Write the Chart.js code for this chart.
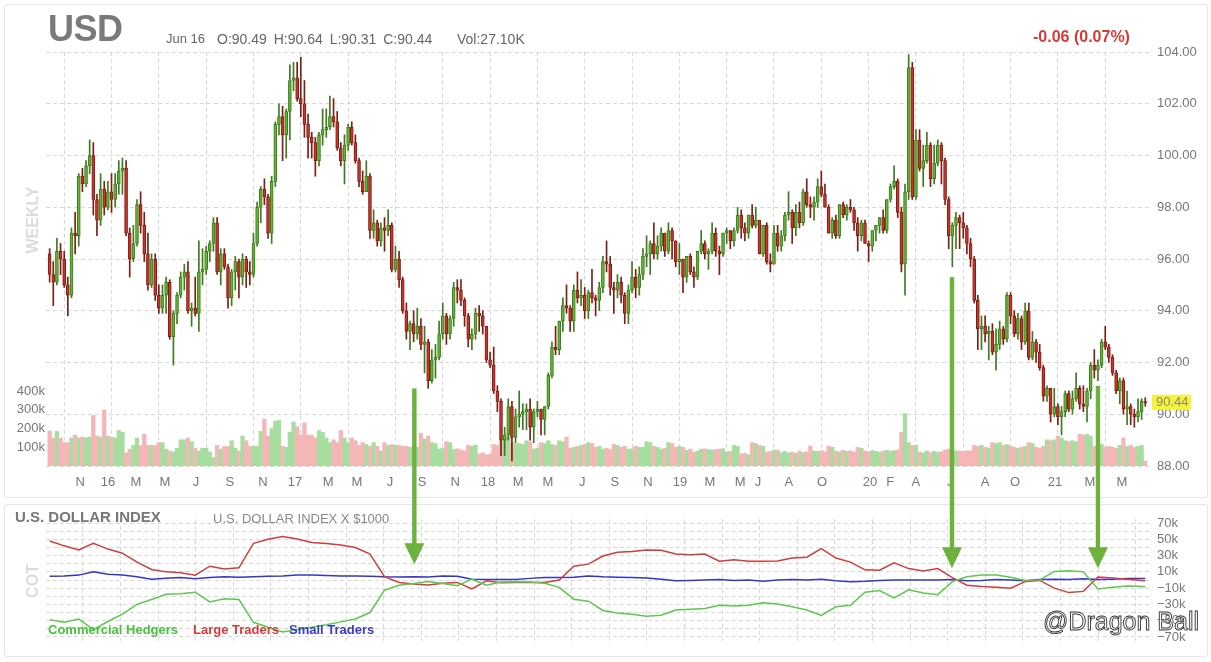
<!DOCTYPE html>
<html>
<head>
<meta charset="utf-8">
<script src="https://cdn.jsdelivr.net/npm/chart.js@4.4.1/dist/chart.umd.min.js"></script>
<style>
  html, body { margin: 0; padding: 0; background: #fff; }
  body { width: 1211px; height: 662px; position: relative; overflow: hidden; font-family: "Liberation Sans", Arial, sans-serif; }
  .panel { position: absolute; border: 1px solid #e6e6e6; border-radius: 3px; }
  #pricePanel { left: 4px; top: 4px; width: 1202px; height: 492px; }
  #cotPanel { left: 4px; top: 504px; width: 1202px; height: 151px; }
  canvas { position: absolute; left: 0; }
  #priceCanvas { top: 0; }
  #cotCanvas { top: 500px; }
  #arrowCanvas { top: 0; }
  .txt { position: absolute; white-space: nowrap; line-height: 1; }
</style>
</head>
<body>
<div class="panel" id="pricePanel"></div>
<div class="panel" id="cotPanel"></div>
<canvas id="priceCanvas" width="1211" height="500"></canvas>
<canvas id="cotCanvas" width="1211" height="162"></canvas>

<div class="txt" style="left:48px;top:11px;font-size:36px;font-weight:bold;color:#7a7a7a;letter-spacing:-0.5px;">USD</div>
<div class="txt" style="left:166px;top:32px;font-size:13px;color:#666;">Jun 16</div>
<div class="txt" style="left:217px;top:32px;font-size:14px;color:#666;word-spacing:3px;">O:90.49 H:90.64 L:90.31 C:90.44</div>
<div class="txt" style="left:457px;top:32px;font-size:14px;color:#666;">Vol:27.10K</div>
<div class="txt" style="left:1033px;top:29px;font-size:16px;font-weight:bold;color:#d63a35;">-0.06 (0.07%)</div>
<div class="txt" style="left:33px;top:220px;font-size:16px;font-weight:bold;color:#dcdcdc;transform:translate(-50%,-50%) rotate(-90deg);">WEEKLY</div>
<div class="txt" style="left:33px;top:581px;font-size:16px;font-weight:bold;color:#dcdcdc;transform:translate(-50%,-50%) rotate(-90deg);">COT</div>
<div class="txt" style="left:15px;top:509px;font-size:15px;font-weight:bold;color:#777;">U.S. DOLLAR INDEX</div>
<div class="txt" style="left:213px;top:512px;font-size:13px;color:#888;">U.S. DOLLAR INDEX X $1000</div>
<div class="txt" style="left:48px;top:623px;font-size:13px;font-weight:bold;color:#48c23a;">Commercial Hedgers</div>
<div class="txt" style="left:193px;top:623px;font-size:13px;font-weight:bold;color:#d23c3c;">Large Traders</div>
<div class="txt" style="left:289px;top:623px;font-size:13px;font-weight:bold;color:#3a3ac8;">Small Traders</div>

<canvas id="arrowCanvas" width="1211" height="662"></canvas>
<div class="txt" style="left:1043px;top:609px;font-size:25px;color:#fff;-webkit-text-stroke:0.9px #333;">@Dragon Ball</div>

<script>
// weekly candles, Sep 2015 .. Jun 2021 (one value per week)
const opens = [
  96.2,95.4,95.1,96.3,96.0,95.0,94.6,97.0,96.9,99.2,
  98.9,99.6,100.0,98.3,97.5,98.7,98.0,98.6,98.3,98.9,
  99.4,99.5,97.0,96.0,96.6,98.1,97.3,96.2,95.0,96.0,
  94.6,94.1,94.6,95.1,93.0,93.9,94.6,95.3,95.5,94.0,
  94.1,93.9,95.5,95.6,96.3,96.6,97.4,95.5,96.2,95.7,
  94.5,95.5,95.9,95.3,96.0,95.5,95.4,96.6,98.0,98.7,
  98.4,97.0,99.0,101.2,101.5,100.8,101.7,102.9,103.0,102.2,
  102.0,101.2,100.7,100.5,99.8,100.8,101.0,101.1,101.5,101.3,
  100.3,99.8,100.4,101.1,100.5,99.8,99.0,98.6,99.2,97.1,
  97.4,96.7,97.2,97.1,97.3,95.6,96.0,95.2,94.0,93.2,
  93.5,93.1,93.4,92.7,92.8,91.3,92.1,92.2,93.1,93.8,
  93.1,93.7,94.9,94.8,94.4,93.8,92.9,93.1,93.9,93.8,
  93.4,92.1,91.9,90.9,90.5,89.0,89.2,90.3,89.1,89.9,
  90.0,90.1,90.2,89.5,90.1,90.2,89.8,90.3,91.5,92.6,
  92.5,93.6,94.2,94.1,93.6,94.8,94.5,94.6,94.0,94.7,
  94.5,94.4,94.9,95.9,95.8,94.9,94.8,95.1,94.6,93.9,
  94.8,95.3,94.9,95.4,96.1,96.2,96.6,96.2,96.5,97.0,
  96.3,97.1,96.7,95.9,96.0,95.3,96.1,95.5,95.3,96.3,
  96.6,96.2,96.3,97.0,96.3,96.2,97.0,97.1,96.7,97.1,
  97.7,97.2,97.0,97.7,97.3,97.5,96.2,97.3,95.9,95.8,
  97.0,96.5,96.9,97.7,97.8,97.2,97.8,97.4,98.6,98.1,
  98.0,98.2,98.8,98.5,98.0,97.0,97.5,96.9,98.1,97.7,
  98.0,97.9,97.4,96.9,97.4,96.6,96.5,97.1,97.3,97.6,
  97.1,98.3,98.8,99.0,97.8,95.8,98.6,103.4,98.4,100.6,
  99.5,99.8,100.4,99.1,99.7,100.4,99.8,98.3,96.9,97.3,
  97.6,97.4,97.2,96.6,96.0,94.4,93.3,93.4,93.1,93.2,
  92.4,92.7,93.3,92.9,94.6,93.8,93.1,93.7,92.8,94.0,
  92.2,92.8,92.4,91.8,90.7,91.0,90.0,90.3,89.9,90.1,
  90.8,90.2,90.6,91.0,90.4,90.3,90.9,91.9,91.7,91.9,
  92.8,92.6,92.2,91.6,90.9,91.3,90.2,90.3,90.0,89.9,
  90.1,90.49
];
const highs = [
  96.4,95.9,96.8,96.6,96.3,95.3,97.2,97.8,99.3,99.5,
  99.8,100.6,100.5,98.5,99.3,99.0,99.0,99.3,99.3,99.8,
  99.9,99.8,97.2,97.3,98.3,98.6,97.8,97.0,96.2,96.2,
  95.0,95.0,95.3,95.2,94.0,94.7,95.5,95.8,95.9,94.3,
  95.3,96.7,96.4,96.5,96.7,97.6,97.6,96.4,96.4,95.8,
  95.6,96.1,96.0,96.2,96.1,95.9,97.0,98.2,98.8,99.1,
  98.5,99.2,101.3,102.0,101.9,101.8,103.5,103.6,103.6,103.8,
  102.9,101.6,100.9,100.7,100.9,101.8,101.8,102.3,102.2,101.7,
  100.5,100.8,101.2,101.3,100.8,99.9,99.4,99.8,99.3,97.9,
  97.5,97.4,97.6,97.9,97.4,96.5,96.3,95.3,94.3,93.6,
  94.0,94.1,93.7,93.4,92.9,92.5,92.7,93.6,94.3,93.9,
  93.8,95.1,95.2,95.2,94.5,93.9,93.3,94.1,94.2,94.0,
  93.4,92.4,92.6,91.1,90.6,89.5,90.6,90.5,90.2,90.9,
  90.4,90.4,90.6,90.2,90.5,90.2,90.3,91.6,92.8,93.4,
  93.6,94.5,95.0,94.2,95.0,95.5,95.2,94.9,94.8,95.6,
  94.6,95.1,96.1,96.7,96.1,95.1,95.4,95.3,94.7,95.0,
  95.9,95.6,95.7,96.4,96.9,96.7,97.4,96.9,97.2,97.0,
  97.4,97.2,96.7,96.6,96.0,96.1,96.2,95.7,96.3,97.1,
  96.7,96.4,97.4,97.2,96.5,97.0,97.2,97.1,97.2,98.0,
  97.9,97.4,97.7,98.1,98.0,97.5,97.3,97.4,96.2,97.3,
  97.3,97.1,97.8,98.6,97.9,98.1,98.2,98.7,99.1,98.4,
  98.4,99.1,99.4,98.9,98.1,97.6,97.7,98.1,98.2,98.1,
  98.3,98.0,97.6,97.5,97.5,96.7,97.1,97.3,97.6,97.9,
  98.3,98.9,99.6,99.1,98.0,98.9,103.9,103.6,101.0,101.0,
  100.4,100.9,100.5,100.4,100.6,100.5,99.9,98.4,97.4,97.8,
  97.7,97.8,97.3,96.8,96.1,94.6,93.8,93.8,93.4,93.5,
  93.3,93.6,93.4,94.7,94.7,94.0,93.9,93.8,94.3,94.3,
  93.2,92.9,92.7,91.9,91.1,91.0,91.0,90.4,90.3,90.9,
  90.9,90.9,91.6,91.1,91.1,91.0,92.0,92.5,92.1,92.9,
  93.4,92.7,92.3,91.7,91.4,91.4,90.9,90.4,90.2,90.6,
  90.6,90.64
];
const lows = [
  95.1,94.2,95.0,95.4,94.9,93.8,94.5,96.2,96.5,98.6,
  98.8,99.3,97.7,96.9,97.3,97.7,97.9,97.8,98.0,98.5,
  98.5,96.9,95.3,95.9,96.5,97.0,95.9,94.8,94.9,94.4,
  93.9,93.9,93.9,92.9,91.9,93.5,94.5,94.8,93.9,93.4,
  93.8,93.2,95.0,95.4,95.9,96.3,95.4,95.0,95.6,94.1,
  94.2,94.8,94.5,95.0,94.9,95.0,95.3,96.5,97.4,98.1,
  96.8,96.6,98.8,100.8,99.8,99.9,100.6,102.5,102.1,101.5,
  100.7,99.9,99.9,99.2,99.6,100.4,100.7,101.0,101.1,100.2,
  99.6,98.9,100.2,100.4,99.7,98.8,98.5,98.6,96.8,96.8,
  96.5,96.5,96.3,96.9,95.5,95.5,94.9,93.9,92.9,92.5,
  92.8,92.9,92.5,91.6,91.0,91.2,91.4,92.1,92.9,92.7,
  92.9,93.4,94.3,94.2,93.4,92.6,92.5,92.9,93.2,93.1,
  92.0,91.8,90.8,90.1,88.4,88.4,89.0,88.2,88.9,89.5,
  89.4,89.4,89.0,88.9,89.9,89.2,89.2,90.2,91.4,92.3,
  92.3,93.2,93.9,93.2,93.2,94.3,94.2,93.7,93.7,94.3,
  93.8,94.0,94.7,95.5,94.6,93.9,94.5,94.3,93.5,93.5,
  94.7,94.5,94.6,95.2,95.7,95.4,96.0,96.0,96.3,96.1,
  96.2,96.0,95.7,95.4,94.7,95.1,95.4,94.9,95.2,96.2,
  96.0,95.6,96.2,96.1,95.4,96.1,96.6,96.4,96.5,97.0,
  96.8,96.7,96.8,97.2,97.2,96.2,96.1,95.8,95.5,95.8,
  96.3,96.3,96.7,97.5,96.6,96.9,97.2,97.3,98.0,97.6,
  97.5,98.0,98.4,98.0,97.0,96.8,96.8,96.8,97.6,97.5,
  97.8,97.1,96.3,96.7,96.6,95.9,96.3,96.7,97.0,97.0,
  97.0,98.2,98.7,97.6,95.5,94.6,98.3,98.3,98.3,99.4,
  98.8,99.7,98.8,98.9,99.6,98.9,98.1,96.4,95.7,96.4,
  96.4,96.8,96.2,95.7,94.3,92.5,92.5,92.8,92.1,92.3,
  91.7,92.5,92.7,92.8,93.5,93.0,92.9,92.5,92.7,92.1,
  92.1,92.0,91.7,90.5,90.5,89.7,89.9,89.6,89.2,89.9,
  90.1,90.0,90.5,90.2,90.1,89.7,90.6,91.4,91.3,91.8,
  92.5,92.0,91.5,90.8,90.4,90.0,89.6,89.6,89.5,89.7,
  89.8,90.31
];
const closes = [
  95.4,95.1,96.3,96.0,95.0,94.6,97.0,96.9,99.2,98.9,
  99.6,100.0,98.3,97.5,98.7,98.0,98.6,98.3,98.9,99.4,
  99.5,97.0,96.0,96.6,98.1,97.3,96.2,95.0,96.0,94.6,
  94.1,94.6,95.1,93.0,93.9,94.6,95.3,95.5,94.0,94.1,
  93.9,95.5,95.6,96.3,96.6,97.4,95.5,96.2,95.7,94.5,
  95.5,95.9,95.3,96.0,95.5,95.4,96.6,98.0,98.7,98.4,
  97.0,99.0,101.2,101.5,100.8,101.7,102.9,103.0,102.2,102.0,
  101.2,100.7,100.5,99.8,100.8,101.0,101.1,101.5,101.3,100.3,
  99.8,100.4,101.1,100.5,99.8,99.0,98.6,99.2,97.1,97.4,
  96.7,97.2,97.1,97.3,95.6,96.0,95.2,94.0,93.2,93.5,
  93.1,93.4,92.7,92.8,91.3,92.1,92.2,93.1,93.8,93.1,
  93.7,94.9,94.8,94.4,93.8,92.9,93.1,93.9,93.8,93.4,
  92.1,91.9,90.9,90.5,89.0,89.2,90.3,89.1,89.9,90.0,
  90.1,90.2,89.5,90.1,90.2,89.8,90.3,91.5,92.6,92.5,
  93.6,94.2,94.1,93.6,94.8,94.5,94.6,94.0,94.7,94.5,
  94.4,94.9,95.9,95.8,94.9,94.8,95.1,94.6,93.9,94.8,
  95.3,94.9,95.4,96.1,96.2,96.6,96.2,96.5,97.0,96.3,
  97.1,96.7,95.9,96.0,95.3,96.1,95.5,95.3,96.3,96.6,
  96.2,96.3,97.0,96.3,96.2,97.0,97.1,96.7,97.1,97.7,
  97.2,97.0,97.7,97.3,97.5,96.2,97.3,95.9,95.8,97.0,
  96.5,96.9,97.7,97.8,97.2,97.8,97.4,98.6,98.1,98.0,
  98.2,98.8,98.5,98.0,97.0,97.5,96.9,98.1,97.7,98.0,
  97.9,97.4,96.9,97.4,96.6,96.5,97.1,97.3,97.6,97.1,
  98.3,98.8,99.0,97.8,95.8,98.6,103.4,98.4,100.6,99.5,
  99.8,100.4,99.1,99.7,100.4,99.8,98.3,96.9,97.3,97.6,
  97.4,97.2,96.6,96.0,94.4,93.3,93.4,93.1,93.2,92.4,
  92.7,93.3,92.9,94.6,93.8,93.1,93.7,92.8,94.0,92.2,
  92.8,92.4,91.8,90.7,91.0,90.0,90.3,89.9,90.1,90.8,
  90.2,90.6,91.0,90.4,90.3,90.9,91.9,91.7,91.9,92.8,
  92.6,92.2,91.6,90.9,91.3,90.2,90.3,90.0,89.9,90.1,
  90.5,90.44
];
// weekly volume, thousands
const volumes = [
  187,150,185,150,125,125,150,165,150,155,
  150,155,270,160,155,300,160,155,150,190,
  180,70,90,110,150,110,170,110,110,110,
  125,125,90,80,75,95,140,140,150,130,
  95,80,95,95,75,45,110,90,105,105,
  135,95,80,160,135,105,105,105,185,250,
  160,200,240,245,105,100,180,235,210,165,
  230,165,165,150,190,180,150,125,140,125,
  190,150,125,150,135,110,125,115,105,125,
  105,80,125,110,115,110,110,105,105,100,
  100,100,175,145,160,125,120,90,95,130,
  125,88,92,85,80,110,105,112,65,70,
  60,62,115,110,135,160,155,125,120,120,
  115,135,130,90,95,125,120,135,115,110,
  135,130,155,95,100,105,110,115,125,120,
  100,105,90,95,88,115,110,100,105,90,
  92,105,100,100,130,125,105,100,90,95,
  125,120,100,105,100,85,90,75,80,90,
  92,88,85,88,90,92,75,78,110,105,
  65,68,60,125,120,110,105,75,78,85,
  85,72,78,70,75,68,80,72,76,107,
  80,78,82,76,107,100,80,76,84,78,
  82,74,100,95,80,76,82,78,74,80,
  84,78,82,86,180,280,125,110,110,75,
  70,80,72,78,74,76,85,90,85,80,
  80,78,82,80,110,105,110,100,95,125,
  120,125,110,115,105,100,95,100,105,125,
  120,100,95,105,140,135,140,160,150,135,
  130,135,130,170,165,170,160,105,110,115,
  100,105,100,95,110,150,105,110,100,105,
  110,27
];

// month labels on the price axis (week index of label, text)
const labelWeeks = [8.4,16,23.7,31.7,40.2,49.5,58.6,67.4,76.5,84.4,93.5,102.3,111.4,120.4,128.7,136.9,146.3,155.3,164.4,173.2,181.4,189.7,194.6,203.1,212.2,225.4,230.9,238,247.4,257,265.2,276.2,285.8,294.6];
const labelTexts = ['N','16','M','M','J','S','N','17','M','M','J','S','N','18','M','M','J','S','N','19','M','M','J','A','O','20','F','A','J','A','O','21','M','M'];
// quarter starts (vertical grid)
const quarterWeeks = [4,17,30,43,56,69,82,95,108,121,134,147,160,173,186,199,212,225,238,251,264,277,290];

// COT net positions, thousands of contracts
const cotWeeks = [0,4,8,12,16,20,24,28,32,36,40,44,48,52,56,60,64,68,72,76,80,84,88,92,96,100,104,108,112,116,120,124,128,132,136,140,144,148,152,156,160,164,168,172,176,180,184,188,192,196,200,204,208,212,216,220,224,228,232,236,240,244,248,252,256,260,264,268,272,276,280,284,288,292,296,300,301];
const cotLarge = [
  48,42,37,45,38,33,22,13,10,9,
  6,17,13.5,15,45,50,53.5,50.5,46,45,
  43,40,32,4,-3,-5,-6,-4,-3,-11,
  -1,-3.5,-3,-3,-3,0,17,19.5,29.5,34,
  35,37,36.5,32,31,32,23,25,23,23,
  23.5,27,28,38.5,27,22,12.5,12,21,14,
  11,14,3,-6.5,-8,-9,-10,-2,-0.5,-10,
  -15.5,-14,3.8,2.5,1,-0.5,-1
];
const cotCommercial = [
  -49,-52,-48,-61,-51,-42,-30,-24,-17.5,-17,
  -15,-27,-23,-24,-52,-58,-64,-61,-58,-55,
  -51.5,-48,-40,-12.5,-6.5,-4.2,-2,-4.2,-7,1,
  -6.5,-2.5,-2,-2.5,-4,-9,-23.6,-26,-37.5,-40.5,
  -42,-44.7,-43.3,-37,-36,-35,-31,-32,-31,-28,
  -29.5,-32.8,-37,-43.5,-33,-31,-15,-13,-22,-12,
  -16,-18,-2,4,6,6,3.5,-0.5,0,10.5,
  11.5,10,-11,-9,-7.5,-8,-8.3
];
const cotSmall = [
  4.6,5,6,10,7,6,4,1,2,3,
  1.5,3,4,3.5,4,4.5,5,6,6,5.5,
  5,5,4.6,4,3.8,4,3.8,5,4.5,1,
  0.5,0.5,0.5,2,3,3,3.5,5,4,3.5,
  3,2.5,1,-1,-0.5,0,0.5,-0.5,0,-1.5,
  0,0.5,0,1,-1,-2,-1.5,-0.5,0,0,
  0,0,0.5,-1,-0.5,0.5,0,-1,0.5,1,
  0.5,1.5,0.5,1,1.7,1.7,2
];

// green arrows: week, price at top of shaft, COT value at the tip
const arrowWeeks = [100.2, 247.9, 288];
const arrowTopPrices = [91.0, 95.3, 91.1];
const arrowTipCot = [19.5, 14.6, 14.6];

Chart.defaults.font.family = '"Liberation Sans", Arial, sans-serif';
Chart.defaults.color = '#777';

const weekIdx = closes.map((c, i) => i);
const up = weekIdx.map(i => closes[i] >= opens[i]);
const xMin = -1, xMax = 302.3;

const lastPriceTag = {
  id: 'lastPriceTag',
  afterDraw(chart) {
    const ctx = chart.ctx;
    const last = closes[closes.length - 1];
    const y = chart.scales.y.getPixelForValue(last);
    ctx.save();
    ctx.fillStyle = '#f6f33c';
    ctx.fillRect(1152, y - 8, 39, 15);
    ctx.fillStyle = '#8c8c6e';
    ctx.font = '13px "Liberation Sans", Arial';
    ctx.textBaseline = 'middle';
    ctx.fillText(last.toFixed(2), 1156, y);
    ctx.restore();
  }
};

const priceChart = new Chart(document.getElementById('priceCanvas'), {
  type: 'bar',
  data: {
    datasets: [{
      label: 'Volume',
      data: weekIdx.map(i => ({x: i, y: volumes[i] * 1000})),
      yAxisID: 'yVol',
      backgroundColor: weekIdx.map(i => up[i] ? 'rgb(168,221,160)' : 'rgb(245,182,183)'),
      barPercentage: 1,
      categoryPercentage: 1,
      grouped: false,
      order: 3
    }, {
      label: 'Range',
      data: weekIdx.map(i => ({x: i, y: [lows[i], highs[i]]})),
      yAxisID: 'y',
      backgroundColor: weekIdx.map(i => up[i] ? '#3d7a1f' : '#7e1d14'),
      barThickness: 1,
      grouped: false,
      order: 2
    }, {
      label: 'Body',
      data: weekIdx.map(i => ({x: i, y: [opens[i], closes[i]]})),
      yAxisID: 'y',
      backgroundColor: weekIdx.map(i => up[i] ? '#62b52f' : '#c8352a'),
      borderColor: weekIdx.map(i => up[i] ? '#3d7a1f' : '#7e1d14'),
      borderWidth: 1,
      borderSkipped: false,
      barThickness: 3,
      minBarLength: 1,
      grouped: false,
      order: 1
    }]
  },
  options: {
    responsive: false,
    animation: false,
    devicePixelRatio: 1,
    events: [],
    layout: { padding: { top: 52, left: 0, right: 0, bottom: 0 } },
    plugins: { legend: { display: false }, tooltip: { enabled: false } },
    scales: {
      x: {
        type: 'linear', position: 'bottom', min: xMin, max: xMax, offset: false,
        grid: { display: false, drawTicks: false, offset: false },
        border: { display: false },
        afterBuildTicks: s => { s.ticks = labelWeeks.map(v => ({value: v})); },
        ticks: { autoSkip: false, maxRotation: 0, padding: 9, color: '#777', font: { size: 13 },
                 callback: (v, idx) => labelTexts[idx] },
        afterFit: s => { s.height = 34; }
      },
      xGrid: {
        type: 'linear', axis: 'x', position: 'bottom', min: xMin, max: xMax, offset: false,
        grid: { color: '#d8d8d8', drawTicks: false, offset: false },
        border: { display: false, dash: [4, 3] },
        afterBuildTicks: s => { s.ticks = quarterWeeks.map(v => ({value: v})); },
        ticks: { display: false },
        afterFit: s => { s.height = 0; }
      },
      y: {
        position: 'right', min: 88, max: 104, beginAtZero: false,
        grid: { color: '#d8d8d8', drawTicks: false },
        border: { display: false, dash: [4, 3] },
        ticks: { stepSize: 2, padding: 7, color: '#777', font: { size: 13 }, callback: v => v.toFixed(2) },
        afterFit: s => { s.width = 61; }
      },
      yVol: {
        position: 'left', min: 0, max: 2214000,
        grid: { display: false, drawTicks: false },
        border: { display: false },
        afterBuildTicks: s => { s.ticks = [100000, 200000, 300000, 400000].map(v => ({value: v})); },
        ticks: { padding: 1, color: '#777', font: { size: 13 }, callback: v => (v / 1000) + 'k' },
        afterFit: s => { s.width = 46; }
      }
    }
  },
  plugins: [lastPriceTag]
});

const cotChart = new Chart(document.getElementById('cotCanvas'), {
  type: 'line',
  data: {
    datasets: [{
      label: 'Commercial Hedgers',
      data: cotWeeks.map((w, k) => ({x: w, y: cotCommercial[k]})),
      borderColor: '#5cc84e', borderWidth: 1.5, pointRadius: 0
    }, {
      label: 'Large Traders',
      data: cotWeeks.map((w, k) => ({x: w, y: cotLarge[k]})),
      borderColor: '#d23c3c', borderWidth: 1.5, pointRadius: 0
    }, {
      label: 'Small Traders',
      data: cotWeeks.map((w, k) => ({x: w, y: cotSmall[k]})),
      borderColor: '#3535c8', borderWidth: 1.5, pointRadius: 0
    }]
  },
  options: {
    responsive: false,
    animation: false,
    devicePixelRatio: 1,
    events: [],
    layout: { padding: { top: 19, bottom: 21, left: 46, right: 0 } },
    plugins: { legend: { display: false }, tooltip: { enabled: false } },
    scales: {
      x: {
        type: 'linear', min: xMin, max: xMax,
        grid: { color: '#d8d8d8', drawTicks: false },
        border: { display: false, dash: [4, 3] },
        afterBuildTicks: s => {
          const t = [];
          for (let v = 9.13; v < xMax; v += 10.33) t.push({value: v});
          s.ticks = t;
        },
        ticks: { display: false },
        afterFit: s => { s.height = 0; }
      },
      y: {
        position: 'right', min: -75, max: 75,
        grid: { color: '#d8d8d8', drawTicks: false },
        border: { display: false, dash: [4, 3] },
        afterBuildTicks: s => {
          const t = [];
          for (let v = -70; v <= 70; v += 10) t.push({value: v});
          s.ticks = t;
        },
        ticks: { autoSkip: false, padding: 7, color: '#777', font: { size: 13 },
                 callback: v => ((v + 70) % 20 === 0) ? (v < 0 ? '\u2212' + Math.abs(v) + 'k' : v + 'k') : '' },
        afterFit: s => { s.width = 61; }
      }
    }
  }
});

// arrows drawn across both panels
const ov = document.getElementById('arrowCanvas').getContext('2d');
ov.fillStyle = '#6cb23d';
arrowWeeks.forEach((w, k) => {
  const x = priceChart.scales.x.getPixelForValue(w);
  const top = priceChart.scales.y.getPixelForValue(arrowTopPrices[k]);
  const tip = 500 + cotChart.scales.y.getPixelForValue(arrowTipCot[k]);
  ov.fillRect(x - 2.2, top, 4.4, tip - 20 - top);
  ov.beginPath();
  ov.moveTo(x - 10, tip - 21);
  ov.lineTo(x + 10, tip - 21);
  ov.lineTo(x, tip);
  ov.closePath();
  ov.fill();
});
</script>
</body>
</html>
